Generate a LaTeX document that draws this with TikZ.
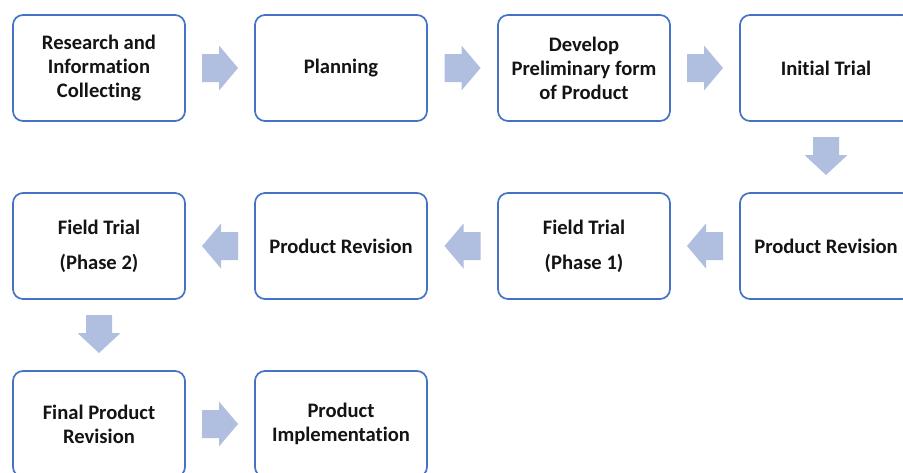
\documentclass[tikz,border=0pt]{standalone}
\usepackage{fontspec}
\setmainfont{Carlito}[RawFeature=-liga]
\usetikzlibrary{calc}
\definecolor{boxblue}{HTML}{4472C4}
\definecolor{arrowfill}{HTML}{B0BEE0}
\definecolor{txt}{HTML}{141414}
\tikzset{
  stagebox/.style={draw=boxblue, line width=1.7pt, rounded corners=10pt, fill=white,
    minimum width=172pt, minimum height=106pt, align=center, inner sep=2pt,
    text=txt, font=\bfseries\fontsize{20.6}{24}\selectfont},
  rarr/.pic={\fill[arrowfill] (-18,-14) -- (-1,-14) -- (-1,-22.5) -- (18,0) -- (-1,22.5) -- (-1,14) -- (-18,14) -- cycle;},
  larr/.pic={\fill[arrowfill] (18,-14) -- (1,-14) -- (1,-22.5) -- (-18,0) -- (1,22.5) -- (1,14) -- (18,14) -- cycle;},
  darr/.pic={\fill[arrowfill] (-13,-20) -- (-13,-2) -- (-21.5,-2) -- (0,18) -- (21.5,-2) -- (13,-2) -- (13,-20) -- cycle;}
}
\begin{document}
\begin{tikzpicture}[x=1pt,y=-1pt]
\useasboundingbox (0,0) rectangle (903,472);
\fill[white] (0,0) rectangle (903,472);
% row 1
\node[stagebox] (a) at (99,68) {Research and\\Information\\Collecting};
\node[stagebox] (b) at (341,68) {Planning};
\node[stagebox] (c) at (584,68) {Develop\\Preliminary form\\of Product};
\node[stagebox] (d) at (826,68) {Initial Trial};
% row 2
\node[stagebox] (e) at (826,246) {Product Revision};
\node[stagebox] (f) at (584,246) {Field Trial\\[11pt](Phase 1)};
\node[stagebox] (g) at (341,246) {Product Revision};
\node[stagebox] (h) at (99,246) {Field Trial\\[11pt](Phase 2)};
% row 3
\node[stagebox] (i) at (99,424) {Final Product\\Revision};
\node[stagebox] (j) at (341,424) {Product\\Implementation};
% connectors
\pic at ($(a.east)!0.5!(b.west)$) {rarr};
\pic at ($(b.east)!0.5!(c.west)$) {rarr};
\pic at ($(c.east)!0.5!(d.west)$) {rarr};
\pic at ($(d.south)!0.5!(e.north)$) {darr};
\pic at ($(e.west)!0.5!(f.east)$) {larr};
\pic at ($(f.west)!0.5!(g.east)$) {larr};
\pic at ($(g.west)!0.5!(h.east)$) {larr};
\pic at ($(h.south)!0.5!(i.north)$) {darr};
\pic at ($(i.east)!0.5!(j.west)$) {rarr};
\end{tikzpicture}
\end{document}
